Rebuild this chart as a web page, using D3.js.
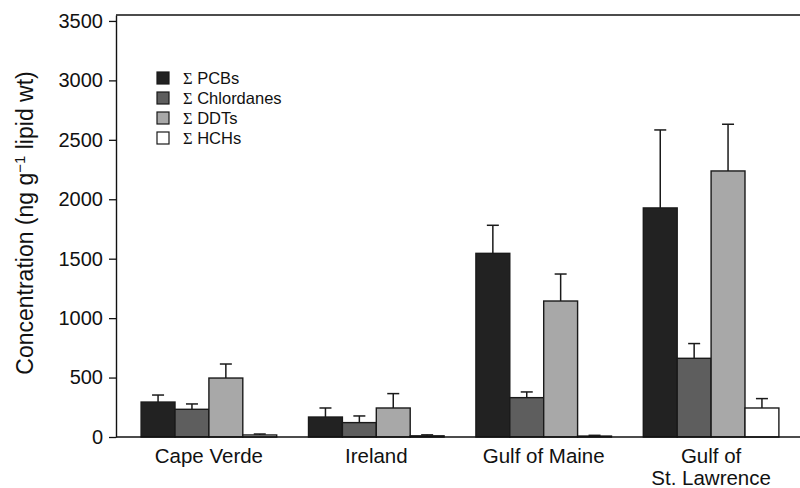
<!DOCTYPE html>
<html>
<head>
<meta charset="utf-8">
<script src="https://cdn.jsdelivr.net/npm/d3@7"></script>
<style>
  body { margin: 0; background: #fff; }
  svg { display: block; font-family: "Liberation Sans", Arial, sans-serif; }
</style>
</head>
<body>
<div id="chart"></div>
<script>
// data
const sites = ["Cape Verde", "Ireland", "Gulf of Maine", "Gulf of St. Lawrence"];
const siteLines = [["Cape Verde"], ["Ireland"], ["Gulf of Maine"], ["Gulf of", "St. Lawrence"]];
const compounds = ["PCBs", "Chlordanes", "DDTs", "HCHs"];
const pcbs = [294, 168, 1545, 1927];
const pcbsErr = [59, 76, 236, 656];
const chlordanes = [233, 121, 331, 662];
const chlordanesErr = [45, 56, 48, 124];
const ddts = [496, 244, 1144, 2238];
const ddtsErr = [118, 121, 227, 393];
const hchs = [17, 10, 8, 244];
const hchsErr = [8, 8, 6, 79];
const yTicks = [0, 500, 1000, 1500, 2000, 2500, 3000, 3500];
const fills = ["#222222", "#5e5e5e", "#a8a8a8", "#ffffff"];

const values = [pcbs, chlordanes, ddts, hchs];
const errors = [pcbsErr, chlordanesErr, ddtsErr, hchsErr];

const width = 800, height = 488;
const svg = d3.select("#chart").append("svg")
    .attr("width", width)
    .attr("height", height);

const x0 = d3.scaleBand()
    .domain(sites)
    .range([116, 804])
    .paddingInner(0.19)
    .paddingOuter(0.15);

const x1 = d3.scaleBand()
    .domain(compounds)
    .range([0, x0.bandwidth()]);

const y = d3.scaleLinear()
    .domain([0, 3550])
    .range([437, 15]);

// bars
const rows = [];
sites.forEach((s, i) => {
    compounds.forEach((c, j) => {
        rows.push({ site: s, comp: c, j: j, value: values[j][i], err: errors[j][i] });
    });
});

const groups = svg.append("g");

groups.selectAll("rect.bar")
    .data(rows)
    .enter().append("rect")
    .attr("class", "bar")
    .attr("x", d => x0(d.site) + x1(d.comp))
    .attr("y", d => y(d.value))
    .attr("width", x1.bandwidth())
    .attr("height", d => y(0) - y(d.value))
    .attr("fill", d => fills[d.j])
    .attr("stroke", "#1a1a1a")
    .attr("stroke-width", 1.4);

// error bars (upper only)
const eb = groups.selectAll("g.err")
    .data(rows)
    .enter().append("g")
    .attr("class", "err")
    .attr("stroke", "#1a1a1a")
    .attr("stroke-width", 1.5);

eb.append("line")
    .attr("x1", d => x0(d.site) + x1(d.comp) + x1.bandwidth() / 2)
    .attr("x2", d => x0(d.site) + x1(d.comp) + x1.bandwidth() / 2)
    .attr("y1", d => y(d.value))
    .attr("y2", d => y(d.value + d.err));

eb.append("line")
    .attr("x1", d => x0(d.site) + x1(d.comp) + x1.bandwidth() / 2 - 6)
    .attr("x2", d => x0(d.site) + x1(d.comp) + x1.bandwidth() / 2 + 6)
    .attr("y1", d => y(d.value + d.err))
    .attr("y2", d => y(d.value + d.err));

// frame: top and bottom lines
svg.append("line")
    .attr("x1", 116).attr("x2", width)
    .attr("y1", y(3550)).attr("y2", y(3550))
    .attr("stroke", "#111").attr("stroke-width", 1.4);
svg.append("line")
    .attr("x1", 116).attr("x2", width)
    .attr("y1", y(0)).attr("y2", y(0))
    .attr("stroke", "#111").attr("stroke-width", 1.5);

// y axis
const yAxis = svg.append("g")
    .attr("transform", "translate(116,0)")
    .call(d3.axisLeft(y).tickValues(yTicks).tickFormat(d3.format("d"))
        .tickSize(7).tickPadding(6).tickSizeOuter(0));
yAxis.select(".domain").attr("stroke", "#111").attr("stroke-width", 1.4);
yAxis.selectAll(".tick line").attr("stroke", "#111").attr("stroke-width", 1.3);
yAxis.selectAll(".tick text")
    .attr("fill", "#111")
    .style("font-size", "20px")
    .style("font-family", "'Liberation Sans', Arial, sans-serif");

// category labels
const cat = svg.selectAll("text.cat")
    .data(sites)
    .enter().append("text")
    .attr("class", "cat")
    .attr("text-anchor", "middle")
    .attr("fill", "#111")
    .style("font-size", "20.5px")
    .attr("x", d => x0(d) + x0.bandwidth() / 2)
    .attr("y", 463);
cat.selectAll("tspan")
    .data((d, i) => siteLines[i])
    .enter().append("tspan")
    .attr("x", function() { return d3.select(this.parentNode).attr("x"); })
    .attr("dy", (d, k) => k === 0 ? 0 : 21.5)
    .text(d => d);

// y axis title
const title = svg.append("text")
    .attr("transform", "translate(33,223) rotate(-90)")
    .attr("text-anchor", "middle")
    .attr("fill", "#111")
    .style("font-size", "23px");
title.append("tspan").text("Concentration (ng g");
title.append("tspan").attr("dy", -8).style("font-size", "15px").text("\u22121");
title.append("tspan").attr("dy", 8).text(" lipid wt)");

// legend
const legend = svg.append("g").attr("transform", "translate(157,72)");
const li = legend.selectAll("g")
    .data(compounds)
    .enter().append("g")
    .attr("transform", (d, i) => `translate(0,${i * 20})`);
li.append("rect")
    .attr("width", 12).attr("height", 12)
    .attr("fill", (d, i) => fills[i])
    .attr("stroke", "#1a1a1a").attr("stroke-width", 1.2);
const lt = li.append("text")
    .attr("x", 26).attr("y", 12)
    .attr("fill", "#111")
    .style("font-size", "16.5px");
lt.append("tspan").style("font-family", "'Liberation Serif', 'DejaVu Serif', serif").text("\u03A3");
lt.append("tspan").text(d => " " + d);
</script>
</body>
</html>
